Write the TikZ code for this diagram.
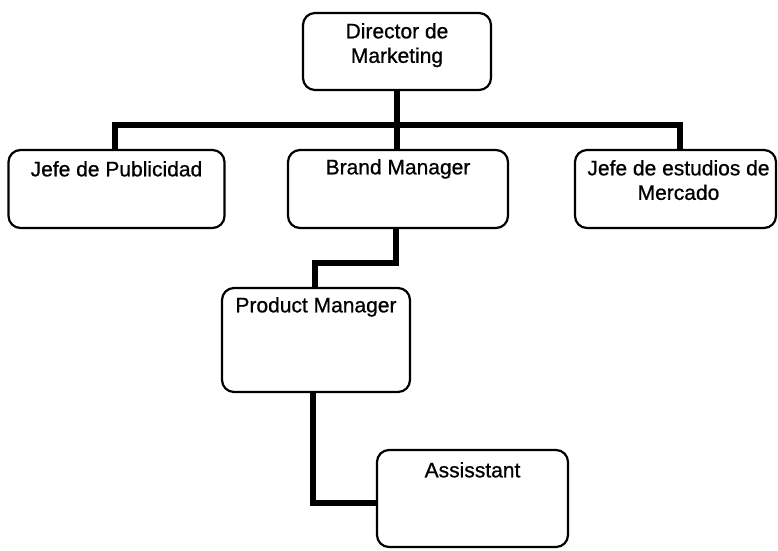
\documentclass[tikz,border=0pt]{standalone}
\usepackage{fontspec}
\setmainfont{Liberation Sans}[UprightFeatures={FakeBold=0.8}]
\begin{document}
\begin{tikzpicture}[x=1pt,y=-1pt,
  orgbox/.style={draw=black, line width=2.2pt, rounded corners=12pt, inner sep=0pt},
  boxtext/.style={anchor=north, inner sep=0pt, align=center, font=\fontsize{21}{24.5}\selectfont},
  conn/.style={draw=black, line width=6pt, line join=miter, line cap=butt}]
  \useasboundingbox (0,0) rectangle (778,550);

  % boxes
  \node[orgbox, minimum width=188pt, minimum height=77pt] (dir)   at (397,51.5) {};
  \node[orgbox, minimum width=216pt, minimum height=78pt] (pub)   at (116.5,189) {};
  \node[orgbox, minimum width=220pt, minimum height=78pt] (brand) at (398,189) {};
  \node[orgbox, minimum width=201pt, minimum height=78pt] (merc)  at (675.5,189) {};
  \node[orgbox, minimum width=188pt, minimum height=104pt] (pm)   at (316,340) {};
  \node[orgbox, minimum width=191pt, minimum height=97pt] (asst)  at (472.5,498.5) {};

  % labels
  \node[boxtext] (dirT)   at ([yshift=-11pt]dir.north)   {Director de\\Marketing};
  \node[boxtext] (pubT)   at ([yshift=-12pt]pub.north)   {Jefe de Publicidad};
  \node[boxtext] (brandT) at ([yshift=-10pt]brand.north) {Brand Manager};
  \node[boxtext] (mercT)  at ([xshift=3pt,yshift=-11pt]merc.north) {Jefe de estudios de\\Mercado};
  \node[boxtext] (pmT)    at ([yshift=-10pt]pm.north)    {Product Manager};
  \node[boxtext] (asstT)  at ([yshift=-13pt]asst.north)  {Assisstant};

  % connectors
  \coordinate (bus) at (397,125);
  \coordinate (mercIn) at (680,150);
  \coordinate (pubIn) at (115,150);
  \draw[conn] (dir.south) -- (dir.south |- brand.north);
  \draw[conn] (pubIn) |- (bus) -| (mercIn);
  \coordinate (bend) at (396,263);
  \coordinate (pmIn) at (315,288);
  \draw[conn] (brand.south -| bend) -- (bend) -| (pmIn);
  \coordinate (asstIn) at (377,503);
  \draw[conn] (pm.south -| 313,0) |- (asstIn);
\end{tikzpicture}
\end{document}
